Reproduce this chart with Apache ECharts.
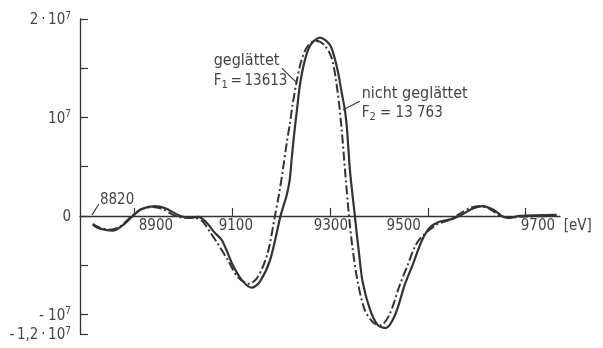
<!DOCTYPE html>
<html>
<head>
<meta charset="utf-8">
<script src="https://cdn.jsdelivr.net/npm/echarts@6/dist/echarts.min.js"></script>
<style>
html,body{margin:0;padding:0;background:#fff;}
#c{width:603px;height:348px;}
</style>
</head>
<body>
<div id="c"></div>
<script>
// Energy (eV) and signal (units of 10^7) — not smoothed (solid line)
const rawEV  = [8816, 8831, 8857, 8876, 8898, 8916, 8943, 8963, 8990, 9010, 9031, 9047, 9063, 9080, 9102, 9120, 9141, 9157, 9178, 9200, 9212, 9218, 9222, 9227, 9233, 9239, 9249, 9261, 9280, 9300, 9310, 9318, 9324, 9331, 9335, 9338, 9341, 9346, 9351, 9355, 9359, 9367, 9382, 9398, 9414, 9433, 9453, 9469, 9488, 9504, 9524, 9551, 9569, 9590, 9612, 9635, 9651, 9667, 9688, 9763];
const rawVal = [-0.09, -0.13, -0.15, -0.10, 0.00, 0.07, 0.10, 0.08, 0.01, -0.02, -0.01, -0.06, -0.16, -0.25, -0.50, -0.65, -0.73, -0.67, -0.45, 0.01, 0.21, 0.36, 0.57, 0.82, 1.08, 1.33, 1.58, 1.74, 1.81, 1.74, 1.60, 1.43, 1.26, 1.07, 0.89, 0.68, 0.47, 0.23, 0.01, -0.18, -0.35, -0.67, -0.95, -1.11, -1.14, -1.01, -0.70, -0.50, -0.25, -0.12, -0.06, -0.03, 0.01, 0.07, 0.10, 0.06, 0.00, -0.02, 0.00, 0.01];
// smoothed (dash-dot line)
const smoothEV  = [8816, 8831, 8851, 8871, 8894, 8912, 8937, 8959, 8980, 9004, 9024, 9041, 9055, 9071, 9092, 9112, 9135, 9153, 9173, 9188, 9196, 9204, 9212, 9218, 9224, 9233, 9241, 9253, 9271, 9288, 9304, 9316, 9324, 9331, 9339, 9347, 9357, 9371, 9388, 9404, 9422, 9443, 9459, 9475, 9490, 9518, 9545, 9565, 9586, 9606, 9627, 9647, 9663, 9688, 9763];
const smoothVal = [-0.08, -0.12, -0.14, -0.11, -0.01, 0.06, 0.09, 0.07, 0.01, -0.02, -0.02, -0.06, -0.16, -0.28, -0.45, -0.62, -0.69, -0.62, -0.38, 0.00, 0.21, 0.46, 0.74, 0.92, 1.13, 1.38, 1.56, 1.71, 1.78, 1.74, 1.60, 1.26, 0.89, 0.47, 0.01, -0.35, -0.67, -0.95, -1.08, -1.11, -1.00, -0.70, -0.50, -0.30, -0.20, -0.09, -0.04, 0.02, 0.08, 0.10, 0.07, 0.00, -0.02, -0.01, 0.00];

const xTicks = [8900, 9100, 9300, 9500, 9700];
const xTickLabels = ['8900', '9100', '9300', '9500', '9700  [eV]'];
const yTicks = [-1.2, -1, -0.5, 0, 0.5, 1, 1.5, 2];
const yLabelValues = [-1.2, -1, 0, 1, 2];
const yLabelMain = ['-\u20091,2\u2009\u00b7\u200910', '- 10', '0', '10', '2\u2009\u00b7\u200910'];
const yLabelSup  = ['7', '7', '', '7', '7'];

const FONT = "'DejaVu Sans Condensed', 'Liberation Sans', sans-serif";
const INK = '#333';
const TXT = '#444';
const X_MIN = 8790, X_MAX = 9770, Y_MIN = -1.2, Y_MAX = 2;
const GRID = {left: 80, right: 43, top: 19, bottom: 14};
const zeroFromBottom = GRID.bottom + (348 - GRID.top - GRID.bottom) * (0 - Y_MIN) / (Y_MAX - Y_MIN);

// horizontal shifts of x labels (as in the original drawing)
const xLabelPad = {8900: [0,0,0,44], 9100: [0,0,0,8], 9300: [0,0,0,2], 9500: [0,48,0,0], 9700: [0,0,0,61]};
const rich = {};
xTicks.forEach(v => { rich['x' + v] = {fontFamily: FONT, fontSize: 15, color: TXT, padding: xLabelPad[v]}; });

const chart = echarts.init(document.getElementById('c'), null, {renderer: 'canvas'});
const option = {
  animation: false,
  backgroundColor: '#fff',
  grid: [
    Object.assign({containLabel: false, outerBoundsMode: 'none'}, GRID),
    {left: GRID.left, right: GRID.right, top: GRID.top, bottom: zeroFromBottom, containLabel: false, outerBoundsMode: 'none'}
  ],
  xAxis: [
    {gridIndex: 0, type: 'value', min: X_MIN, max: X_MAX, show: false},
    {
      gridIndex: 1, type: 'value', min: X_MIN, max: X_MAX, position: 'bottom',
      axisLine: {onZero: false, lineStyle: {color: INK, width: 1.3}},
      axisTick: {show: true, inside: true, length: 8, customValues: xTicks, lineStyle: {color: INK, width: 1.2}},
      axisLabel: {
        customValues: xTicks, margin: 3, hideOverlap: false,
        formatter: v => '{x' + v + '|' + xTickLabels[xTicks.indexOf(v)] + '}',
        rich: rich
      },
      splitLine: {show: false}
    }
  ],
  yAxis: [
    {
      gridIndex: 0, type: 'value', min: Y_MIN, max: Y_MAX,
      axisLine: {show: true, onZero: false, lineStyle: {color: INK, width: 1.3}},
      axisTick: {show: true, inside: true, length: 8, customValues: yTicks, lineStyle: {color: INK, width: 1.2}},
      axisLabel: {
        customValues: yLabelValues, margin: 9, hideOverlap: false, showMinLabel: true, showMaxLabel: true,
        formatter: v => {
          const i = yLabelValues.findIndex(a => Math.abs(a - v) < 1e-9);
          if (i < 0) return '';
          return '{n|' + yLabelMain[i] + '}' + (yLabelSup[i] ? '{s|' + yLabelSup[i] + '}' : '');
        },
        rich: {
          n: {fontFamily: FONT, fontSize: 15, color: TXT, lineHeight: 16, padding: [3,0,0,0]},
          s: {fontFamily: FONT, fontSize: 10, color: TXT, verticalAlign: 'top', lineHeight: 10}
        }
      },
      splitLine: {show: false}
    },
    {gridIndex: 1, type: 'value', min: 0, max: 1, show: false}
  ],
  series: [
    {
      name: 'nicht geglättet', type: 'line', smooth: 0.3, symbol: 'none', xAxisIndex: 0, yAxisIndex: 0,
      lineStyle: {color: INK, width: 2.2},
      data: rawEV.map((e, i) => [e, rawVal[i]])
    },
    {
      name: 'geglättet', type: 'line', smooth: 0.3, symbol: 'none', xAxisIndex: 0, yAxisIndex: 0,
      lineStyle: {color: INK, width: 2.0, type: [9, 3, 2, 3]},
      data: smoothEV.map((e, i) => [e, smoothVal[i]])
    }
  ]
};
chart.setOption(option);

const P = (e, v) => chart.convertToPixel({gridIndex: 0}, [e, v]);
function label(e, v, text, size, rich) {
  const p = P(e, v);
  return {type: 'text', x: p[0], y: p[1], z: 10,
    style: {text: text, verticalAlign: 'middle', align: 'left', rich: rich, fontFamily: FONT, fontSize: size, fill: TXT}};
}
function leader(e1, v1, e2, v2) {
  const a = P(e1, v1), b = P(e2, v2);
  return {type: 'line', z: 10, shape: {x1: a[0], y1: a[1], x2: b[0], y2: b[1]}, style: {stroke: INK, lineWidth: 1.1}};
}
const fRich = {
  t: {fontFamily: FONT, fontSize: 15, color: TXT},
  sub: {fontFamily: FONT, fontSize: 11, color: TXT, verticalAlign: 'bottom', padding: [7,0,0,0]}
};
chart.setOption({
  graphic: [
    label(8830.6, 0.16, '8820', 15),
    leader(8828.6, 0.12, 8814.3, 0.008),
    label(9063, 1.573, 'geglättet', 16),
    label(9063, 1.365, '{t|F}{sub|1}{t|\u2009=\u200913613}', 15, fRich),
    leader(9202, 1.502, 9232.7, 1.35),
    label(9365, 1.238, 'nicht geglättet', 16),
    label(9365, 1.04, '{t|F}{sub|2}{t| = 13 763}', 15, fRich),
    leader(9361.2, 1.165, 9326.5, 1.075)
  ]
});
</script>
</body>
</html>
